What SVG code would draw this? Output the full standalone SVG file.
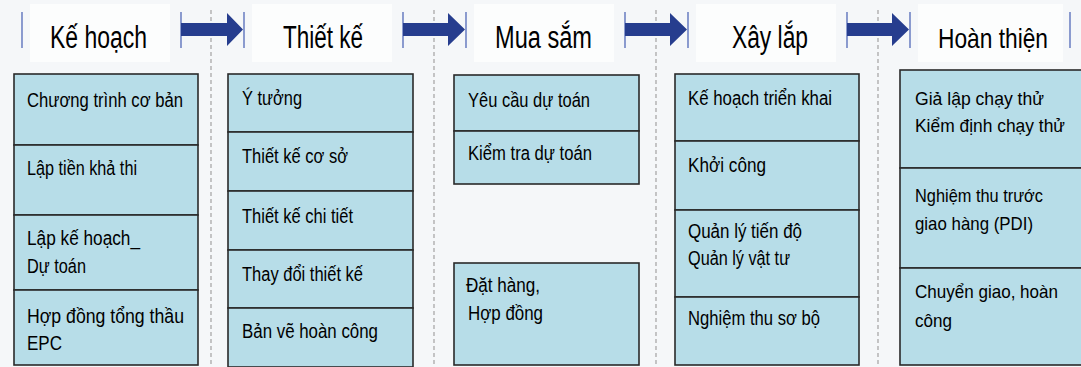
<svg xmlns="http://www.w3.org/2000/svg" width="1081" height="367" viewBox="0 0 1081 367">
<defs>
<style>
.bg{fill:#f5f7f9}
.hdr{fill:#fcfdfd}
.box{fill:#b7dde8;stroke:#2a2a2a;stroke-width:1.6}
.sep{stroke:#a9a9a9;stroke-width:1.3;stroke-dasharray:4,3;fill:none}
.bar{stroke:#7083c4;stroke-width:1.6}
.arr{fill:#263d8e}
.ht{font-family:"Liberation Sans",Arial,sans-serif;font-size:31px;fill:#000}
.t{font-family:"Liberation Sans",Arial,sans-serif;font-size:20px;fill:#000}
.s{font-size:19px}
.hs{font-size:28.5px}
</style>
</defs>
<rect class="bg" x="0" y="0" width="1081" height="367"/>
<g id="header-bg">
<rect class="hdr" x="30" y="4" width="140" height="58"/>
<rect class="hdr" x="252" y="4" width="140" height="58"/>
<rect class="hdr" x="474" y="4" width="140" height="58"/>
<rect class="hdr" x="696" y="4" width="140" height="58"/>
<rect class="hdr" x="918" y="4" width="145" height="58"/>
</g>
<g id="separators">
<line class="sep" x1="211" y1="10" x2="211" y2="367"/>
<line class="sep" x1="434" y1="10" x2="434" y2="367"/>
<line class="sep" x1="656" y1="10" x2="656" y2="367"/>
<line class="sep" x1="878" y1="10" x2="878" y2="367"/>
</g>
<g id="connectors">
<line class="bar" x1="22" y1="12" x2="22" y2="48"/>
<line class="bar" x1="181" y1="12" x2="181" y2="48"/>
<line class="bar" x1="244" y1="12" x2="244" y2="48"/>
<polygon class="arr" points="181,23 227,23 227,13 243,29.5 227,46 227,36 181,36"/>
<line class="bar" x1="403" y1="12" x2="403" y2="48"/>
<line class="bar" x1="466" y1="12" x2="466" y2="48"/>
<polygon class="arr" points="403,23 448,23 448,13 465,29.5 448,46 448,36 403,36"/>
<line class="bar" x1="625" y1="12" x2="625" y2="48"/>
<line class="bar" x1="688" y1="12" x2="688" y2="48"/>
<polygon class="arr" points="625,23 670,23 670,13 687,29.5 670,46 670,36 625,36"/>
<line class="bar" x1="847" y1="12" x2="847" y2="48"/>
<line class="bar" x1="910" y1="12" x2="910" y2="48"/>
<polygon class="arr" points="847,23 892,23 892,13 909,29.5 892,46 892,36 847,36"/>
<line class="bar" x1="1070" y1="12" x2="1070" y2="48"/>
</g>
<g id="headers">
<text class="ht" x="50" y="48" textLength="97" lengthAdjust="spacingAndGlyphs">Kế hoạch</text>
<text class="ht" x="283" y="48" textLength="80" lengthAdjust="spacingAndGlyphs">Thiết kế</text>
<text class="ht" x="495" y="48" textLength="97" lengthAdjust="spacingAndGlyphs">Mua sắm</text>
<text class="ht" x="732" y="48" textLength="76" lengthAdjust="spacingAndGlyphs">Xây lắp</text>
<text class="ht hs" x="938" y="48" textLength="110" lengthAdjust="spacingAndGlyphs">Hoàn thiện</text>
</g>
<g id="col-ke-hoach">
<g id="n-chuong-trinh"><rect class="box" x="14" y="74" width="184" height="71"/><text class="t" x="27" y="107" textLength="156" lengthAdjust="spacingAndGlyphs">Chương trình cơ bản</text></g>
<g id="n-lap-tien"><rect class="box" x="14" y="145" width="184" height="70"/><text class="t" x="27" y="175" textLength="110" lengthAdjust="spacingAndGlyphs">Lập tiền khả thi</text></g>
<g id="n-lap-ke-hoach"><rect class="box" x="14" y="215" width="184" height="75"/><text class="t" x="27" y="245" textLength="113" lengthAdjust="spacingAndGlyphs">Lập kế hoạch_</text><text class="t" x="27" y="273" textLength="59" lengthAdjust="spacingAndGlyphs">Dự toán</text></g>
<g id="n-hop-dong-epc"><rect class="box" x="14" y="290" width="184" height="75"/><text class="t" x="27" y="323" textLength="157" lengthAdjust="spacingAndGlyphs">Hợp đồng tổng thầu</text><text class="t" x="27" y="350" textLength="35" lengthAdjust="spacingAndGlyphs">EPC</text></g>
</g>
<g id="col-thiet-ke">
<g id="n-y-tuong"><rect class="box" x="228" y="74" width="185" height="58"/><text class="t" x="242" y="105" textLength="60" lengthAdjust="spacingAndGlyphs">Ý tưởng</text></g>
<g id="n-tk-co-so"><rect class="box" x="228" y="132" width="185" height="59"/><text class="t" x="242" y="163" textLength="106" lengthAdjust="spacingAndGlyphs">Thiết kế cơ sở</text></g>
<g id="n-tk-chi-tiet"><rect class="box" x="228" y="191" width="185" height="59"/><text class="t" x="242" y="223" textLength="111" lengthAdjust="spacingAndGlyphs">Thiết kế chi tiết</text></g>
<g id="n-thay-doi"><rect class="box" x="228" y="250" width="185" height="58"/><text class="t" x="242" y="281" textLength="121" lengthAdjust="spacingAndGlyphs">Thay đổi thiết kế</text></g>
<g id="n-ban-ve"><rect class="box" x="228" y="308" width="185" height="59"/><text class="t" x="242" y="338" textLength="136" lengthAdjust="spacingAndGlyphs">Bản vẽ hoàn công</text></g>
</g>
<g id="col-mua-sam">
<g id="n-yeu-cau"><rect class="box" x="454" y="75" width="185" height="56"/><text class="t" x="468" y="107" textLength="122" lengthAdjust="spacingAndGlyphs">Yêu cầu dự toán</text></g>
<g id="n-kiem-tra"><rect class="box" x="454" y="131" width="185" height="53"/><text class="t" x="468" y="160" textLength="124" lengthAdjust="spacingAndGlyphs">Kiểm tra dự toán</text></g>
<g id="n-dat-hang"><rect class="box" x="454" y="263" width="185" height="102"/><text class="t" x="466" y="292" textLength="74" lengthAdjust="spacingAndGlyphs">Đặt hàng,</text><text class="t" x="468" y="320" textLength="75" lengthAdjust="spacingAndGlyphs">Hợp đồng</text></g>
</g>
<g id="col-xay-lap">
<g id="n-trien-khai"><rect class="box" x="675" y="74" width="184" height="67"/><text class="t" x="688" y="105" textLength="144" lengthAdjust="spacingAndGlyphs">Kế hoạch triển khai</text></g>
<g id="n-khoi-cong"><rect class="box" x="675" y="141" width="184" height="69"/><text class="t" x="688" y="172" textLength="78" lengthAdjust="spacingAndGlyphs">Khởi công</text></g>
<g id="n-quan-ly"><rect class="box" x="675" y="210" width="184" height="87"/><text class="t" x="688" y="238" textLength="114" lengthAdjust="spacingAndGlyphs">Quản lý tiến độ</text><text class="t" x="688" y="265" textLength="102" lengthAdjust="spacingAndGlyphs">Quản lý vật tư</text></g>
<g id="n-nghiem-thu-sb"><rect class="box" x="675" y="297" width="184" height="68"/><text class="t" x="688" y="325" textLength="132" lengthAdjust="spacingAndGlyphs">Nghiệm thu sơ bộ</text></g>
</g>
<g id="col-hoan-thien">
<g id="n-gia-lap"><rect class="box" x="900" y="70" width="190" height="98"/><text class="t s" x="915" y="105" textLength="129" lengthAdjust="spacingAndGlyphs">Giả lập  chạy thử</text><text class="t s" x="915" y="132" textLength="150" lengthAdjust="spacingAndGlyphs">Kiểm định chạy thử</text></g>
<g id="n-pdi"><rect class="box" x="900" y="168" width="190" height="100"/><text class="t s" x="915" y="202" textLength="128" lengthAdjust="spacingAndGlyphs">Nghiệm thu trước</text><text class="t s" x="915" y="230" textLength="118" lengthAdjust="spacingAndGlyphs">giao hàng (PDI)</text></g>
<g id="n-chuyen-giao"><rect class="box" x="900" y="268" width="190" height="97"/><text class="t s" x="915" y="298" textLength="143" lengthAdjust="spacingAndGlyphs">Chuyển giao, hoàn</text><text class="t s" x="915" y="327" textLength="37" lengthAdjust="spacingAndGlyphs">công</text></g>
</g>
</svg>
